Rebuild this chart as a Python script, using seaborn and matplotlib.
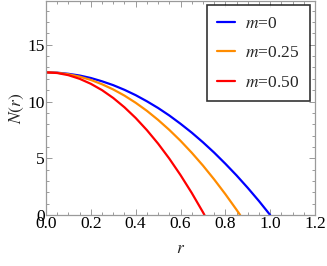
import numpy as np
import pandas as pd
import matplotlib
matplotlib.use("Agg")
import matplotlib.pyplot as plt
import seaborn as sns
from matplotlib.ticker import MultipleLocator
from matplotlib.lines import Line2D

sns.set_theme(style="ticks")
plt.rcParams['font.family'] = ['Liberation Serif', 'DejaVu Serif']
plt.rcParams['mathtext.fontset'] = 'stix'

# m = 0
r_m0 = [0.0, 0.05, 0.1, 0.15, 0.2, 0.25, 0.3, 0.35, 0.4, 0.45, 0.5, 0.55, 0.6, 0.65, 0.7, 0.75, 0.8, 0.85, 0.9, 0.95, 1.0]
N_m0 = [12.57, 12.54, 12.44, 12.29, 12.07, 11.78, 11.44, 11.03, 10.56, 10.02, 9.43, 8.77, 8.04, 7.26, 6.41, 5.50, 4.52, 3.49, 2.39, 1.23, 0.0]
# m = 0.25
r_m25 = [0.0, 0.05, 0.1, 0.15, 0.2, 0.25, 0.3, 0.35, 0.4, 0.45, 0.5, 0.55, 0.6, 0.65, 0.7, 0.75, 0.8, 0.85, 0.866]
N_m25 = [12.57, 12.53, 12.40, 12.19, 11.90, 11.52, 11.06, 10.52, 9.89, 9.18, 8.38, 7.50, 6.54, 5.49, 4.36, 3.14, 1.84, 0.46, 0.0]
# m = 0.50
r_m50 = [0.0, 0.05, 0.1, 0.15, 0.2, 0.25, 0.3, 0.35, 0.4, 0.45, 0.5, 0.55, 0.6, 0.65, 0.7, 0.707]
N_m50 = [12.57, 12.51, 12.32, 12.00, 11.56, 11.00, 10.31, 9.49, 8.55, 7.48, 6.29, 4.97, 3.52, 1.95, 0.25, 0.0]

labels = ["m=0", "m=0.25", "m=0.50"]
leg_labels = ["$m$=0", "$m$=0.25", "$m$=0.50"]
colors = ["#0000ff", "#ff8c00", "#ff0000"]

df = pd.concat([
    pd.DataFrame({"r": r_m0, "N": N_m0, "case": labels[0]}),
    pd.DataFrame({"r": r_m25, "N": N_m25, "case": labels[1]}),
    pd.DataFrame({"r": r_m50, "N": N_m50, "case": labels[2]}),
])

fig = plt.figure(figsize=(3.27, 2.66), dpi=100)
ax = fig.add_axes([46/327, 51/266, 269/327, 214.5/266])

sns.lineplot(data=df, x="r", y="N", hue="case", palette=colors, hue_order=labels,
             linewidth=1.6, sort=False, ax=ax, legend=False, estimator=None)

ax.set_xlim(0, 1.2)
ax.set_ylim(0, 18.9)
ax.xaxis.set_major_locator(MultipleLocator(0.2))
ax.xaxis.set_minor_locator(MultipleLocator(0.05))
ax.yaxis.set_major_locator(MultipleLocator(5))
ax.yaxis.set_minor_locator(MultipleLocator(1))
ax.set_xticks([0, 0.2, 0.4, 0.6, 0.8, 1.0, 1.2])
ax.set_xticklabels(["0.0", "0.2", "0.4", "0.6", "0.8", "1.0", "1.2"])
ax.set_yticks([0, 5, 10, 15])
ax.set_yticklabels(["0", "5", "10", "15"])

frame_col = "#9a9a9a"
for s in ax.spines.values():
    s.set_color(frame_col)
    s.set_linewidth(0.9)
ax.tick_params(which="both", direction="in", top=True, right=True, color=frame_col,
               labelsize=12.5, labelcolor="black", width=0.7)
ax.tick_params(which="major", length=4, pad=1)
ax.tick_params(which="minor", length=2)

ax.set_xlabel("$r$", fontsize=12.5, labelpad=6)
ax.set_ylabel("$N(r)$", fontsize=12.5, labelpad=1)

handles = [Line2D([], [], color=c, lw=1.6) for c in colors]
leg = ax.legend(handles, leg_labels, loc="upper right", bbox_to_anchor=(0.9925, 0.995),
                fontsize=12.5, frameon=True, fancybox=False, shadow=False,
                handlelength=1.0, handletextpad=0.6, labelspacing=0.78,
                borderpad=0.6, borderaxespad=0.2)
leg.get_frame().set_edgecolor("black")
leg.get_frame().set_linewidth(1.2)

fig.savefig("out.png", dpi=100)
